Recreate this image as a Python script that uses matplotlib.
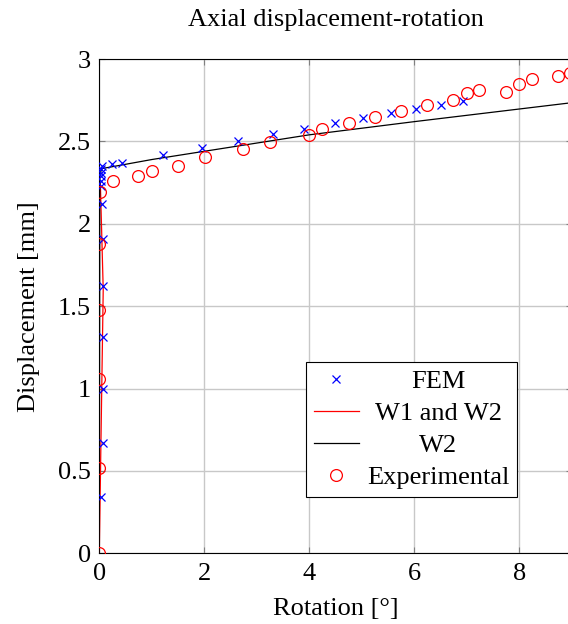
import matplotlib
matplotlib.use('Agg')
import matplotlib.pyplot as plt
import numpy as np

# FEM results (blue crosses)
fem_rot = [0.04, 0.08, 0.08, 0.08, 0.08, 0.07, 0.06, 0.03, 0.03, 0.03, 0.03, 0.04, 0.06,
           0.25, 0.43, 1.21, 1.95, 2.64, 3.30, 3.90, 4.49, 5.03, 5.55, 6.03, 6.50, 6.93]
fem_disp = [0.34, 0.67, 1.00, 1.31, 1.62, 1.91, 2.12, 2.23, 2.26, 2.29, 2.31, 2.33, 2.35,
            2.365, 2.37, 2.417, 2.457, 2.50, 2.542, 2.575, 2.609, 2.64, 2.67, 2.694, 2.722, 2.745]

# analytical curve W1 and W2 (red)
w12_rot = [0.0, 0.075, 0.02]
w12_disp = [0.0, 1.60, 2.25]

# analytical curve W2 (black)
w2_rot = [0.0, 0.01, 0.05, 1.0, 2.0, 4.0, 6.0, 9.0]
w2_disp = [0.0, 2.30, 2.335, 2.39, 2.44, 2.54, 2.62, 2.735]

# experimental data (red circles)
exp_rot = [0.0, 0.0, 0.0, 0.0, 0.0, 0.01, 0.255, 0.74, 1.0, 1.5, 2.01, 2.74, 3.25, 4.0,
           4.25, 4.75, 5.25, 5.74, 6.24, 6.74, 7.0, 7.24, 7.75, 7.99, 8.24, 8.74, 8.97]
exp_disp = [0.0, 0.516, 1.06, 1.476, 1.88, 2.194, 2.259, 2.288, 2.32, 2.35, 2.403, 2.451,
            2.496, 2.538, 2.577, 2.613, 2.647, 2.686, 2.724, 2.753, 2.795, 2.811, 2.80,
            2.848, 2.878, 2.896, 2.913]

x_ticks = [0, 2, 4, 6, 8]
y_ticks = [0, 0.5, 1, 1.5, 2, 2.5, 3]
y_tick_labels = ['0', '0.5', '1', '1.5', '2', '2.5', '3']


def configure_style():
    # pgfplots-like look: serif font, ticks inside
    plt.rcParams['font.family'] = ['Liberation Serif', 'DejaVu Serif']
    plt.rcParams['font.size'] = 19
    plt.rcParams['mathtext.fontset'] = 'stix'
    plt.rcParams['xtick.direction'] = 'in'
    plt.rcParams['ytick.direction'] = 'in'
    plt.rcParams['axes.linewidth'] = 0.8


def center_legend_texts(fig, leg):
    # pgfplots centres the legend entries, matplotlib left-aligns them
    fig.canvas.draw()
    renderer = fig.canvas.get_renderer()
    texts = leg.get_texts()
    widths = [t.get_window_extent(renderer).width for t in texts]
    wmax = max(widths)
    for t, w in zip(texts, widths):
        t.set_x((wmax - w) / 2.0)


def plot_chart(save_path):
    configure_style()
    fig = plt.figure(figsize=(5.68, 6.24), dpi=100)
    ax = fig.add_axes([0.1748, 0.1133, 0.8319, 0.7921])

    ax.plot(fem_rot, fem_disp, linestyle='none', marker='x', color='#0000ff',
            markersize=5.5, markeredgewidth=0.9, label='FEM', zorder=4)
    ax.plot(w12_rot, w12_disp, color='#ff0000', linewidth=0.9, label='W1 and W2', zorder=3)
    ax.plot(w2_rot, w2_disp, color='black', linewidth=0.9, label='W2', zorder=3)
    ax.plot(exp_rot, exp_disp, linestyle='none', marker='o', markerfacecolor='none',
            markeredgecolor='#ff0000', markersize=8.5, markeredgewidth=0.9,
            label='Experimental', zorder=5)

    ax.set_xlim(0, 9)
    ax.set_ylim(0, 3)
    ax.set_xticks(x_ticks)
    ax.set_yticks(y_ticks)
    ax.set_yticklabels(y_tick_labels)
    ax.tick_params(which='both', top=True, right=True, length=4, width=0.8,
                   color='#808080', pad=6)
    ax.tick_params(axis='x', pad=7)
    ax.grid(True, color='#c8c8c8', linewidth=1.0)
    ax.set_axisbelow(True)

    ax.set_title('Axial displacement-rotation', fontsize=19, pad=24)
    ax.set_xlabel('Rotation [°]', labelpad=9)
    ax.set_ylabel('Displacement [mm]', labelpad=13)

    leg = ax.legend(loc='upper left', bbox_to_anchor=(0.4375, 0.387), fontsize=19,
                    frameon=True, fancybox=False, edgecolor='black', framealpha=1.0,
                    borderpad=0.3, labelspacing=0.32, handlelength=1.7,
                    handletextpad=0.31, borderaxespad=0.0)
    leg.get_frame().set_linewidth(0.8)
    center_legend_texts(fig, leg)

    fig.savefig(save_path, dpi=100)


if __name__ == "__main__":
    plot_chart('out.png')
